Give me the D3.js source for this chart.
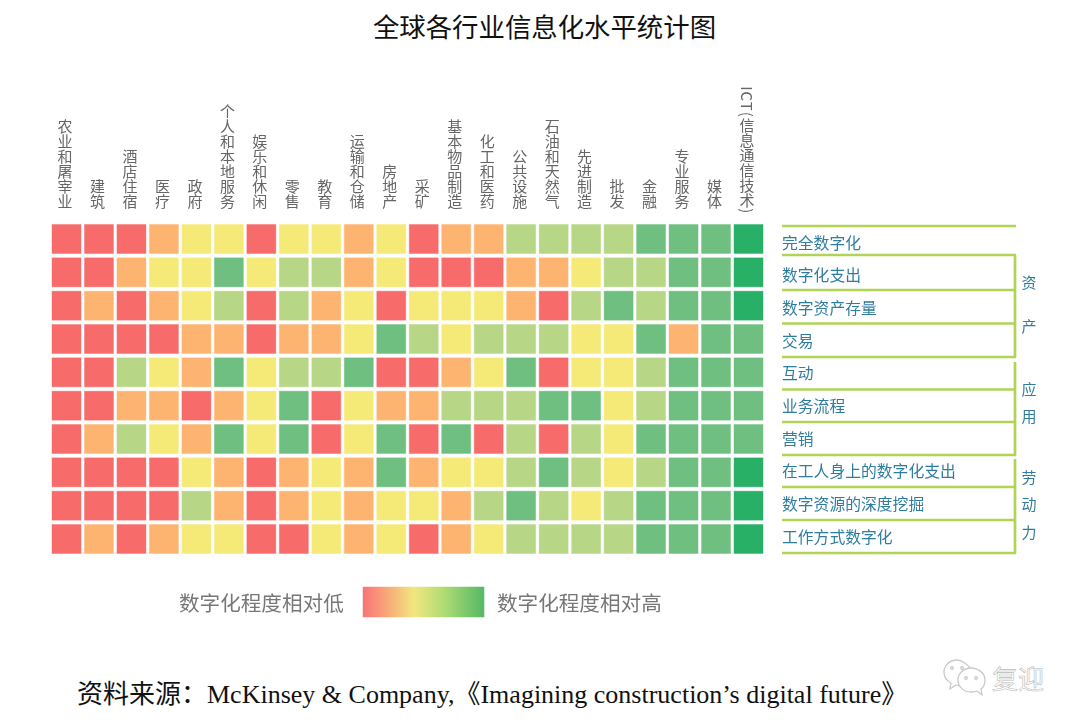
<!DOCTYPE html>
<html lang="zh"><head><meta charset="utf-8">
<script src="https://cdn.jsdelivr.net/npm/d3@7/dist/d3.min.js"></script>
<style>
html,body{margin:0;padding:0;background:#fff}
svg{display:block}
.soft{filter:blur(0.35px)}
</style></head><body><div id="chart"></div>
<script>
const titleText = "全球各行业信息化水平统计图";
const sourceText = "资料来源：McKinsey & Company,《Imagining construction’s digital future》";
const industries = ["农业和屠宰业","建筑","酒店住宿","医疗","政府","个人和本地服务","娱乐和休闲","零售","教育","运输和仓储","房地产","采矿","基本物品制造","化工和医药","公共设施","石油和天然气","先进制造","批发","金融","专业服务","媒体","ICT(信息通信技术)"];
const metrics = ["完全数字化","数字化支出","数字资产存量","交易","互动","业务流程","营销","在工人身上的数字化支出","数字资源的深度挖掘","工作方式数字化"];
const levelColors = ["#f76b6a","#feb471","#f5ea78","#b7d686","#6ebf80","#29b067"];
const levels = [0,1,2,3,4,5];
const row0 = [0,0,0,1,2,2,0,2,2,1,2,0,1,1,3,3,3,3,4,4,4,5];
const row1 = [0,0,1,2,2,4,2,3,3,1,2,0,0,0,1,1,2,3,3,4,4,5];
const row2 = [0,1,0,1,2,3,0,3,1,2,0,2,2,2,1,0,3,4,3,4,4,5];
const row3 = [0,0,0,0,1,1,0,1,1,2,4,3,2,3,3,3,2,2,4,1,4,4];
const row4 = [0,0,3,2,1,4,2,3,3,4,0,0,1,2,4,0,2,2,3,4,4,4];
const row5 = [0,0,1,1,0,1,2,4,0,2,1,1,3,3,3,4,4,2,3,4,4,4];
const row6 = [0,1,3,2,1,4,2,4,0,2,4,0,4,0,3,0,3,2,4,4,4,4];
const row7 = [0,0,0,0,2,1,0,1,2,1,4,1,2,2,3,4,3,2,3,4,4,5];
const row8 = [0,0,0,0,3,1,0,1,2,1,2,2,1,3,4,3,2,3,4,4,4,5];
const row9 = [0,1,0,1,2,2,0,0,2,1,2,0,1,2,3,3,3,3,4,4,4,5];
const rows = [row0,row1,row2,row3,row4,row5,row6,row7,row8,row9];
const legendLow = "数字化程度相对低";
const legendHigh = "数字化程度相对高";
const legendStops = ["#f87378","#f8a278","#f2e67f","#b2dc74","#52b866"];
const groupChars = [["资",283],["产",327],["应",390],["用",417],["劳",478],["动",505],["力",533]];
const ruleYs = [226,255,290,323.5,357,389.5,422,455,487,520,553];
const bracketSpans = [[255,357.5],[362,455.5],[459,553.5]];

const W=1080,H=727,CJK='"Noto Sans CJK SC","Noto Sans",sans-serif';
const svg=d3.select("#chart").append("svg").attr("width",W).attr("height",H);

const x=d3.scaleBand().domain(industries).range([51.5,763.5]).paddingInner(0.0764);
const y=d3.scaleBand().domain(metrics).range([224,554]).paddingInner(0.1);
const color=d3.scaleOrdinal().domain(levels).range(levelColors);

svg.append("text").attr("x",544.5).attr("y",37).attr("text-anchor","middle")
  .attr("font-family",'"Noto Sans CJK SC"').attr("font-size",26.4).attr("fill","#111").text(titleText);

// cells
const cells=rows.flatMap((r,i)=>r.map((v,j)=>({m:metrics[i],c:industries[j],v})));
svg.append("g").selectAll("rect").data(cells).join("rect")
  .attr("x",d=>x(d.c)+.5).attr("y",d=>y(d.m)+.5)
  .attr("width",x.bandwidth()-1).attr("height",y.bandwidth()-1)
  .attr("fill",d=>color(d.v)).attr("stroke",d=>color(d.v)).attr("stroke-opacity",.4).attr("stroke-width",1);

// top axis
const axT=svg.append("g").attr("class","soft").attr("transform","translate(-1.5,209)")
  .call(d3.axisTop(x).tickSize(0).tickPadding(0));
axT.select(".domain").remove();
axT.selectAll("text").attr("font-family",CJK).attr("font-size",15).attr("fill","#666")
  .attr("dy",0).attr("y",0).attr("x",0)
  .style("writing-mode","vertical-rl").style("text-anchor","end").style("text-orientation","mixed");
const ictTick=axT.selectAll("text").filter(d=>d===industries[industries.length-1]);
const ictLabel=ictTick.text();
ictTick.text(null).attr("y",4);
ictTick.append("tspan").style("letter-spacing","1px").text(ictLabel.slice(0,4));
ictTick.append("tspan").text(ictLabel.slice(4));

// right axis with row labels
const yl=d3.scalePoint().domain(metrics).range([243,537]);
const axR=svg.append("g").attr("class","soft").attr("transform","translate(782,0)")
  .call(d3.axisRight(yl).tickSize(0).tickPadding(0));
axR.select(".domain").remove();
axR.selectAll("text").attr("font-family",CJK).attr("font-size",15.8).attr("fill","#2f7d9e");

// brackets
const g=svg.append("g");
g.selectAll("line.r").data(ruleYs).join("line").attr("class","r")
  .attr("x1",782).attr("x2",1016).attr("y1",d=>d).attr("y2",d=>d)
  .attr("stroke","#b1d455").attr("stroke-width",2.7);
g.selectAll("line.b").data(bracketSpans).join("line").attr("class","b")
  .attr("x1",1015).attr("x2",1015).attr("y1",d=>d[0]).attr("y2",d=>d[1])
  .attr("stroke","#b1d455").attr("stroke-width",2.7);
svg.append("g").attr("class","soft").selectAll("text").data(groupChars).join("text")
  .attr("x",1029).attr("y",d=>d[1]).attr("dy",".36em").attr("text-anchor","middle")
  .attr("font-family",CJK).attr("font-size",15).attr("fill","#2f7d9e").text(d=>d[0]);

// legend
const grad=svg.append("defs").append("linearGradient").attr("id","lg");
grad.selectAll("stop").data(legendStops).join("stop")
  .attr("offset",(d,i)=>[0,.18,.42,.66,1][i]).attr("stop-color",d=>d);
svg.append("rect").attr("x",362.5).attr("y",586.5).attr("width",122).attr("height",31)
  .attr("fill","url(#lg)").attr("stroke","#fff").attr("stroke-opacity",.5);
const lt=svg.append("g").attr("class","soft").attr("font-family",CJK).attr("font-size",20.6).attr("fill","#777");
lt.append("text").attr("x",179).attr("y",611).text(legendLow);
lt.append("text").attr("x",497).attr("y",611).text(legendHigh);

// source
svg.append("text").attr("x",77).attr("y",703).attr("font-family",'"Liberation Serif","Noto Sans CJK SC",serif')
  .attr("font-size",26).attr("fill","#111").text(sourceText);

// watermark
const wm=svg.append("g").attr("fill","none").attr("stroke","#c9c9c9").attr("stroke-width",1.3);
wm.append("path").attr("d","M972 672C969 664 961 660 957 660C949 660 944 666 944 672C944 677 947 681 951 683L950 689L956 685C958 686 961 686 963 686");
wm.append("path").attr("d","M985 680C985 673 978 668 971 668C963 668 958 674 958 680C958 687 964 692 971 692C973 692 975 692 977 691L982 695L981 689C984 687 985 684 985 680Z").attr("fill","#fff");
wm.selectAll("circle").data([[952,668],[962,668],[966,678],[976,678]]).join("circle")
  .attr("cx",d=>d[0]).attr("cy",d=>d[1]).attr("r",1.3);
svg.append("text").attr("x",992).attr("y",689).attr("font-family",CJK).attr("font-size",26)
  .attr("fill","#fff").attr("stroke","#bbb").attr("stroke-width",.6).text("复迎");
</script></body></html>
